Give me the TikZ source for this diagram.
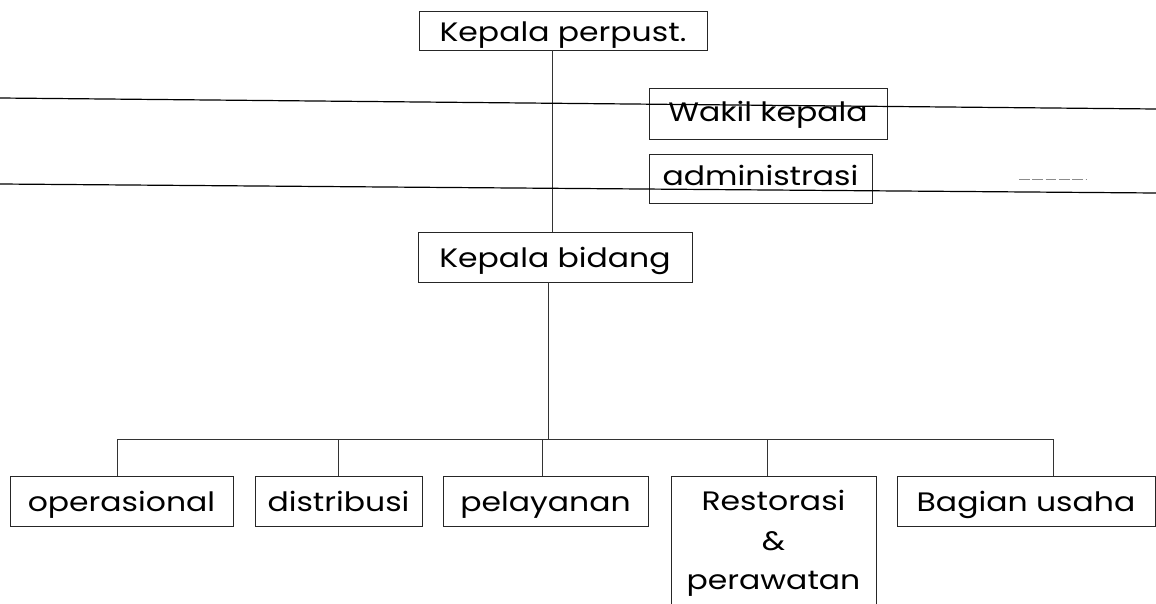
\documentclass[tikz,border=0pt]{standalone}
\usepackage{fontspec}
\setmainfont[FakeStretch=1.18]{Poppins}
\begin{document}
\begin{tikzpicture}[x=0.75pt,y=-0.75pt,
  lbl/.style={font=\fontsize{20}{30}\selectfont, anchor=center,
    text height=20pt, text depth=4pt},
  box/.style 2 args={lbl, draw=black!85, line width=0.6pt, minimum width=#1*0.75pt,
    minimum height=#2*0.75pt, inner sep=0pt, align=center},
  link/.style={draw=black!80, line width=0.6pt},
  rule/.style={draw=black, line width=0.9pt}]
\useasboundingbox (0,0) rectangle (1156,603);
\clip (0,0) rectangle (1156,603);

% top of the hierarchy
\node[box={288}{39}] (kp) at (563,30.5) {Kepala perpust.};
\node[box={238}{51}, text depth=8pt] (wk) at (768,113.5) {Wakil kepala};
\node[box={223}{49}, text depth=10pt] (ad) at (760.5,178.5) {administrasi};
\node[box={274}{50}] (kb) at (555,257) {Kepala bidang};

% units
\node[box={223}{50}] (op) at (121.5,501) {operasional};
\node[box={167}{50}] (di) at (338.5,501) {distribusi};
\node[box={205}{50}] (pl) at (545.5,501) {pelayanan};
\node[box={205}{130}] (rs) at (773.5,541) {};
\node[lbl] (rs1) at (773.5,500) {Restorasi};
\node[lbl] (rs2) at (773.5,540) {\&};
\node[lbl] (rs3) at (773.5,579) {perawatan};
\node[box={258}{50}] (bu) at (1026,501) {Bagian usaha};

% vertical trunk
\coordinate (t1) at (552,0);
\coordinate (t2) at (548,0);
\draw[link] (kp.south -| t1) -- (kb.north -| t1);
\coordinate (bus) at (548,439);
\draw[link] (kb.south -| t2) -- (bus);

% distribution bus and drops
\coordinate (bl) at (117,439);
\coordinate (br) at (1053,439);
\draw[link] (bl) -- (br);
\draw[link] (bl) -- (bl |- op.north);
\draw[link] (338,439) coordinate (d2) -- (d2 |- di.north);
\draw[link] (542,439) coordinate (d3) -- (d3 |- pl.north);
\draw[link] (767,439) coordinate (d4) -- (d4 |- rs.north);
\draw[link] (br) -- (br |- bu.north);

% long horizontal rules across the chart
\coordinate (ra1) at (0,98);
\coordinate (ra2) at (1156,109);
\coordinate (rb1) at (0,184);
\coordinate (rb2) at (1156,193);
\draw[rule] (ra1) -- (ra2);
\draw[rule] (rb1) -- (rb2);

% faint stroke at the right
\coordinate (f1) at (1019,179);
\coordinate (f2) at (1086,179);
\draw[black!45, line width=0.5pt, dash pattern=on 8pt off 2pt] (f1) -- (f2);
\end{tikzpicture}
\end{document}
